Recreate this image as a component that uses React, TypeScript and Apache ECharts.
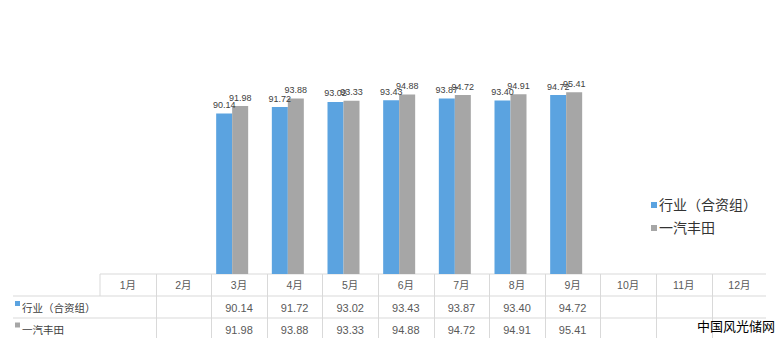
import React, { useEffect, useRef } from "react";
import * as echarts from "echarts";

const months = ["1月", "2月", "3月", "4月", "5月", "6月", "7月", "8月", "9月", "10月", "11月", "12月"];
const seriesNames = ["行业（合资组）", "一汽丰田"];
const industry: (number | null)[] = [null, null, 90.14, 91.72, 93.02, 93.43, 93.87, 93.4, 94.72, null, null, null];
const faw: (number | null)[] = [null, null, 91.98, 93.88, 93.33, 94.88, 94.72, 94.91, 95.41, null, null, null];
const colors = ["#5BA3E0", "#A6A6A6"];

const FONT = "'Liberation Sans', 'Noto Sans CJK SC', sans-serif";

export default function App() {
  const ref = useRef<HTMLDivElement>(null);
  useEffect(() => {
    if (!ref.current) return;
    const chart = echarts.init(ref.current, null, { renderer: "svg" });

    const tLeft = 100;
    const colW = 55.6;
    const yTop = 274;
    const yR1 = 296;
    const yR2 = 318;
    const yBot = 338;
    const lineColor = "#D9D9D9";
    const g: any[] = [];
    const hline = (x1: number, x2: number, y: number) =>
      g.push({ type: "line", shape: { x1, y1: y, x2, y2: y }, style: { stroke: lineColor, lineWidth: 1 }, silent: true });
    const vline = (x: number, y1: number, y2: number) =>
      g.push({ type: "line", shape: { x1: x, y1, x2: x, y2 }, style: { stroke: lineColor, lineWidth: 1 }, silent: true });
    hline(tLeft, 766, yTop);
    hline(13, 766, yR1);
    hline(13, 766, yR2);
    vline(tLeft, yTop, yR1);
    for (let k = 1; k < months.length; k++) vline(Math.round(tLeft + k * colW) + 0.5, yTop, yBot);

    const text = (t: string, x: number, y: number, size: number, fill: string, align = "center") =>
      g.push({
        type: "text",
        x,
        y,
        silent: true,
        style: { text: t, fill, fontSize: size, fontFamily: FONT, textAlign: align, textVerticalAlign: "middle" },
      });
    const rowsY = [308, 329.5];
    const rowData = [industry, faw];
    months.forEach((m, i) => {
      const cx = tLeft + (i + 0.5) * colW;
      text(m, cx, 285, 10.5, "#595959");
      rowData.forEach((arr, r) => {
        const v = arr[i];
        if (v != null) text(v.toFixed(2), cx, rowsY[r], 11, "#595959");
      });
    });
    seriesNames.forEach((n, r) => {
      g.push({ type: "rect", shape: { x: 15, y: rowsY[r] - 7, width: 5, height: 5 }, style: { fill: colors[r] }, silent: true });
      text(n, 22, rowsY[r], 10.5, "#404040", "left");
    });
    text("中国风光储网", 697, 326.5, 13, "#000000", "left");

    chart.setOption({
      animation: false,
      backgroundColor: "#ffffff",
      grid: { left: 93, right: 22, top: 74, bottom: 83 },
      legend: {
        orient: "vertical",
        left: 646,
        top: 193,
        itemWidth: 6,
        itemHeight: 6,
        itemGap: 9,
        icon: "rect",
        data: seriesNames,
        textStyle: { fontSize: 14, lineHeight: 14, color: "#333333", fontFamily: FONT, padding: [0, 0, 0, -3] },
      },
      xAxis: {
        type: "category",
        data: months,
        axisLine: { show: false },
        axisTick: { show: false },
        axisLabel: { show: false },
      },
      yAxis: {
        type: "value",
        min: 50,
        max: 100,
        show: false,
        splitLine: { show: false },
      },
      series: [industry, faw].map((d, i) => ({
        name: seriesNames[i],
        type: "bar",
        data: d,
        barWidth: 16,
        barGap: "0%",
        itemStyle: { color: colors[i] },
        label: {
          show: true,
          position: "top",
          distance: 4,
          fontSize: 9,
          color: "#404040",
          fontFamily: FONT,
          formatter: (p: any) => (p.value == null ? "" : Number(p.value).toFixed(2)),
        },
      })),
      graphic: g,
    });
    return () => chart.dispose();
  }, []);
  return <div ref={ref} style={{ position: "fixed", left: 0, top: 0, width: 783, height: 357 }} />;
}
